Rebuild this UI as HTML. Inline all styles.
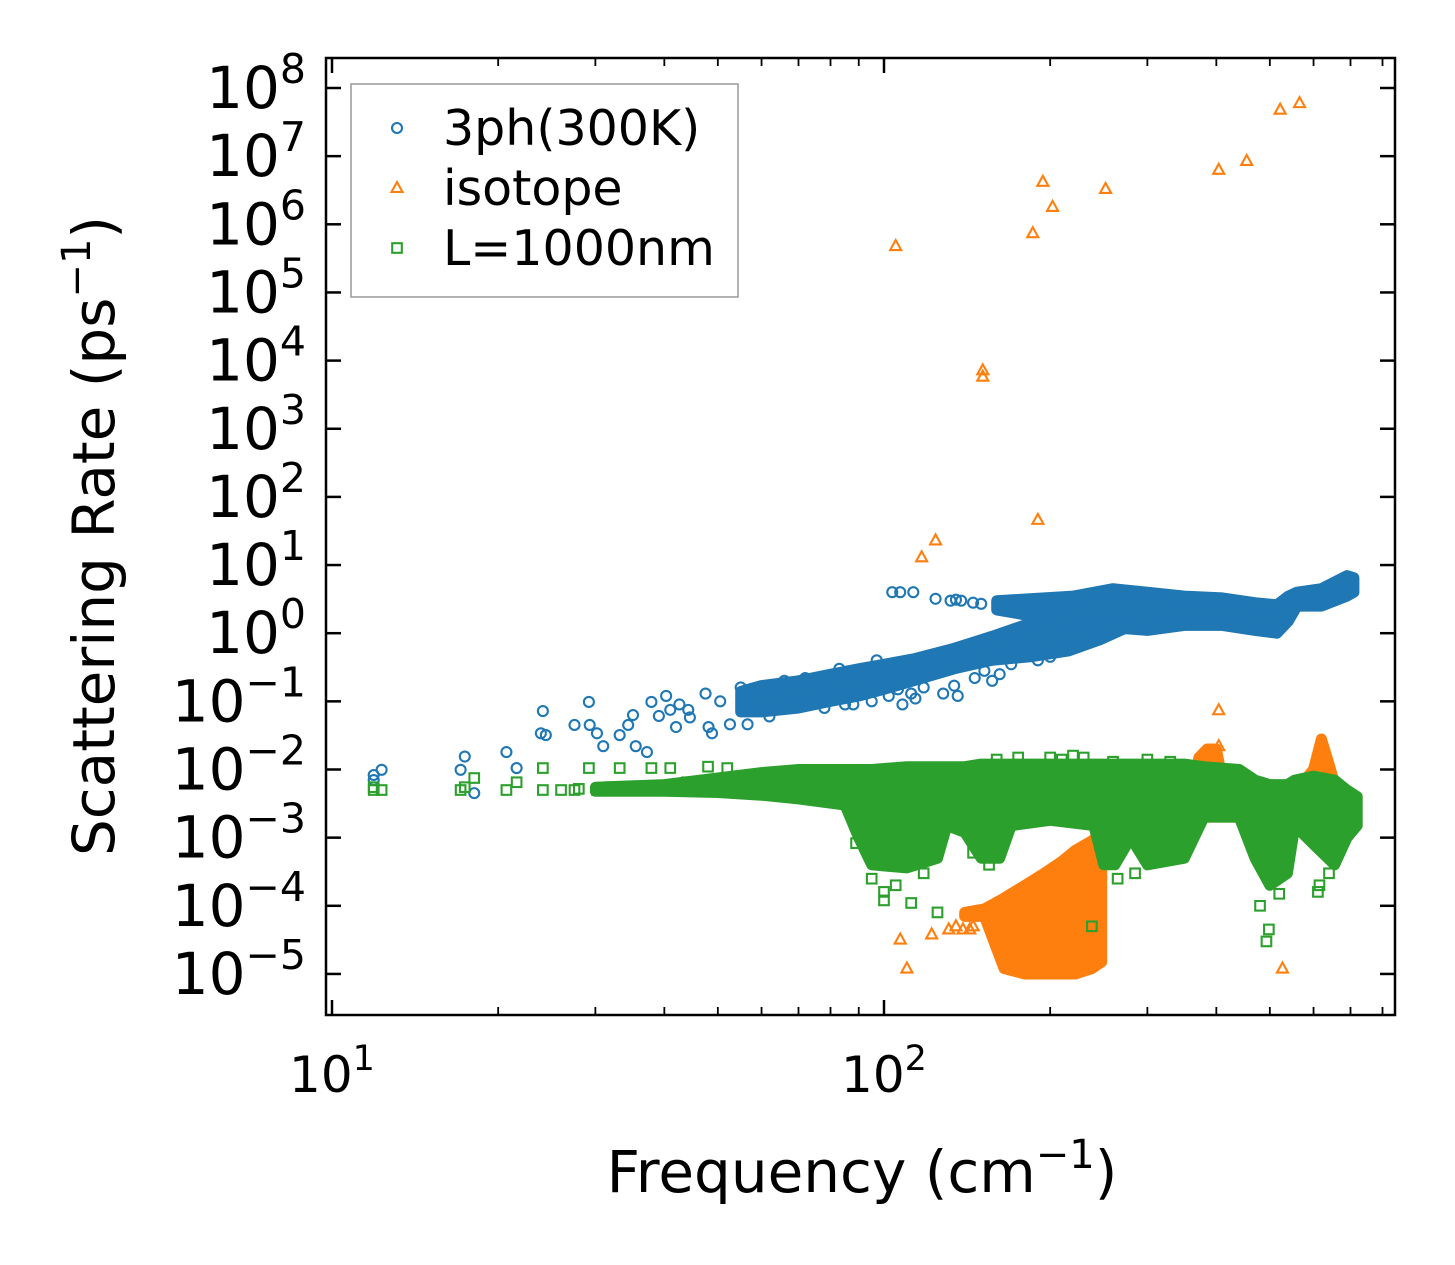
<!DOCTYPE html>
<html><head><meta charset="utf-8"><style>
html,body{margin:0;padding:0;background:#fff}
svg{display:block;font-family:"DejaVu Sans","Liberation Sans",sans-serif}
</style></head><body>
<svg id="chart" width="1455" height="1265" viewBox="0 0 1455 1265" xmlns="http://www.w3.org/2000/svg">
<rect x="0" y="0" width="1455" height="1265" fill="#fff"/>
<g id="plot"></g>
<g id="axes"></g>
</svg>
<script>
// ---- data ----
const xTickDecades = [1, 2];
const yTickDecades = [-5,-4,-3,-2,-1,0,1,2,3,4,5,6,7,8];

// 3ph (blue) dense bands: freq, low, high
const blueLowF  = [55,60,70,80,90,100,113,134,157,184,216,246,275];
const blueLowLo = [0.07,0.07,0.08,0.1,0.12,0.15,0.2,0.3,0.4,0.45,0.55,0.8,1.2];
const blueLowHi = [0.14,0.17,0.2,0.25,0.3,0.35,0.42,0.6,0.9,1.4,2.5,3.5,4];
const blueUpF  = [160,184,220,260,300,350,410,470,515,540,560,620,690,710];
const blueUpLo = [2.2,1.8,1.5,1.2,1.1,1.3,1.3,1.1,1.0,1.5,2.5,2.5,3.5,4];
const blueUpHi = [3.0,3.2,3.5,4.5,4.0,3.5,3.3,2.8,2.6,3.5,4.0,4.5,7,6.5];
const blueF = [11.9,11.9,12.3,17.1,17.4,18.1,20.7,21.6,24.1,23.9,24.4,27.5,29.2,29.3,30.2,31,33.2,34.4,35.1,35.5,37.2,37.9,39.1,40.3,41,42,42.6,44.2,44.5,47.5,48.1,48.8,50.5,52.6,55,56.6,
  103.5,107,113,124,132,135,138,145,150,104,106,112,114,134,136,157,162,170,190,95,85,75,62,66,72,78,83,88,97,102,108,118,128,146,152,178,200];
const blueV = [0.0083,0.007,0.0099,0.0099,0.0155,0.0045,0.018,0.0105,0.072,0.034,0.032,0.045,0.098,0.045,0.034,0.022,0.032,0.045,0.063,0.022,0.018,0.098,0.061,0.12,0.075,0.042,0.09,0.075,0.058,0.13,0.042,0.034,0.1,0.046,0.16,0.046,
  4,4,4,3.2,3,3.1,3,2.8,2.7,0.2,0.15,0.13,0.11,0.17,0.12,0.2,0.25,0.35,0.4,0.1,0.09,0.12,0.06,0.2,0.22,0.08,0.3,0.09,0.4,0.12,0.09,0.16,0.13,0.22,0.28,0.6,0.45];

// isotope (orange)
const orBlobF  = [140,152,165,180,195,210,222,238,248];
const orBlobLo = [7e-5,7e-5,1.2e-5,1e-5,1e-5,1e-5,1e-5,1.2e-5,1.5e-5];
const orBlobHi = [8e-5,9e-5,1.3e-4,2e-4,3e-4,4.5e-4,6.5e-4,9e-4,1.2e-3];
const orBandF  = [250,300,360,372,385,400,412,440,560,600,620,640,660,700];
const orBandLo = [2e-3,2e-3,2e-3,2e-3,2e-3,2e-3,2e-3,2e-3,2e-3,2e-3,2e-3,2e-3,2e-3,2e-3];
const orBandHi = [3.5e-3,4e-3,4e-3,0.015,0.02,0.02,0.006,5e-3,5e-3,0.01,0.028,0.012,5e-3,4e-3];
const orangeF = [105,117,124,151,151,186,194,202,190,252,404,454,522,566,404,404,527,110,107,122,131,135,139,143,145,262,290,320];
const orangeV = [4.8e5,13,23,7.2e3,5.8e3,7.4e5,4.2e6,1.8e6,46,3.3e6,6.3e6,8.5e6,4.8e7,6e7,0.074,0.022,1.2e-5,1.2e-5,3.2e-5,3.8e-5,4.5e-5,5e-5,4.5e-5,4.5e-5,5e-5,2.5e-3,3e-3,2.5e-3];

// L=1000nm (green)
const greenBandF  = [30,40,50,60,70,85,90,95,110,125,130,140,150,162,170,200,240,250,262,280,300,350,380,440,470,500,538,555,600,655,690,720];
const greenBandLo = [0.0048,0.0048,0.0046,0.0042,0.0037,0.003,0.001,4e-4,3.6e-4,5e-4,0.0015,0.0012,5e-4,5e-4,0.0015,0.0018,0.0015,4e-4,4e-4,0.001,4e-4,5e-4,0.002,0.002,5e-4,2e-4,3e-4,0.0015,8e-4,4e-4,0.001,0.0015];
const greenBandHi = [0.0055,0.006,0.0075,0.009,0.01,0.01,0.01,0.01,0.011,0.011,0.011,0.011,0.012,0.012,0.012,0.012,0.012,0.012,0.012,0.012,0.012,0.012,0.011,0.01,0.007,0.006,0.006,0.007,0.008,0.007,0.005,0.004];
const greenF = [11.9,11.9,12.3,17.1,17.4,18.1,20.7,21.6,24.1,24.1,27.5,29.2,30.2,33.2,35.1,37.9,41,44,48,52,26,28,32,36,
  89,100,100,112,125,238,493,498,611,615,640,200,210,220,230,160,175,260,300,330,95,105,118,145,155,265,285,480,520];
const greenV = [0.005,0.0055,0.005,0.005,0.0055,0.0075,0.005,0.0065,0.0105,0.005,0.005,0.0105,0.005,0.0105,0.005,0.0105,0.0105,0.0065,0.011,0.0105,0.005,0.0052,0.0055,0.005,
  8.3e-4,1.6e-4,1.2e-4,1.1e-4,8e-5,5e-5,3e-5,4.5e-5,1.6e-4,2e-4,3e-4,0.015,0.014,0.016,0.015,0.014,0.015,0.013,0.014,0.013,2.5e-4,2e-4,3e-4,6e-4,4e-4,2.5e-4,3e-4,1e-4,1.5e-4];

// ---- axes functions ----
const X0 = 332, XDEC = 552, Y8 = 88, YDEC = 68.15;
function X(f){ return X0 + XDEC*(Math.log10(f) - 1); }
function Y(v){ return Y8 + (8 - Math.log10(v))*YDEC; }
const NS = 'http://www.w3.org/2000/svg';
const plot = document.getElementById('plot');
const axes = document.getElementById('axes');
function mk(tag, attrs, parent){
  const e = document.createElementNS(NS, tag);
  for (const k in attrs) e.setAttribute(k, attrs[k]);
  parent.appendChild(e); return e;
}
const BLUE='#1f77b4', ORANGE='#ff7f0e', GREEN='#2ca02c';

const defs = mk('defs', {}, document.getElementById('chart'));
const cp = mk('clipPath', {id:'clip'}, defs);
mk('rect', {x:326, y:58, width:1069, height:957}, cp);
plot.setAttribute('clip-path', 'url(#clip)');

function band(F, lo, hi, color, name){
  let d = '';
  for (let i=0;i<F.length;i++) d += (i?'L':'M') + X(F[i]).toFixed(1) + ' ' + Y(hi[i]).toFixed(1);
  for (let i=F.length-1;i>=0;i--) d += 'L' + X(F[i]).toFixed(1) + ' ' + Y(lo[i]).toFixed(1);
  d += 'Z';
  const p = mk('path', {d:d, fill:color, stroke:color, 'stroke-width':11, 'stroke-linejoin':'round'}, plot);
  
  
}
function marker(kind, cx, cy, color, parent){
  let e;
  if (kind==='o') e = mk('circle', {cx:cx, cy:cy, r:5, fill:'none', stroke:color, 'stroke-width':2.1}, parent);
  else if (kind==='s') e = mk('rect', {x:cx-4.8, y:cy-4.8, width:9.6, height:9.6, fill:'none', stroke:color, 'stroke-width':2.1}, parent);
  else e = mk('polygon', {points:`${cx},${cy-6} ${cx+5.5},${cy+4} ${cx-5.5},${cy+4}`, fill:'none', stroke:color, 'stroke-width':2.1}, parent);
  return e;
}
function scatter(F, V, kind, color, name){
  const g = mk('g', {}, plot);
  
  
  for (let i=0;i<F.length;i++){
    const m = marker(kind, X(F[i]), Y(V[i]), color, g);
    
    
  }
}
band(blueLowF, blueLowLo, blueLowHi, BLUE, '3ph-lower-band');
band(blueUpF, blueUpLo, blueUpHi, BLUE, '3ph-upper-band');
scatter(blueF, blueV, 'o', BLUE, '3ph-points');
band(orBlobF, orBlobLo, orBlobHi, ORANGE, 'isotope-low-cluster');
band(orBandF, orBandLo, orBandHi, ORANGE, 'isotope-high-freq-band');
scatter(orangeF, orangeV, '^', ORANGE, 'isotope-points');
band(greenBandF, greenBandLo, greenBandHi, GREEN, 'boundary-band');
scatter(greenF, greenV, 's', GREEN, 'boundary-points');

const fr = mk('rect', {x:326, y:58, width:1069, height:957, fill:'none', stroke:'#000', 'stroke-width':2.5}, axes);



yTickDecades.forEach(p=>{
  const y = Y(Math.pow(10,p));
  const t1 = mk('line', {x1:326, x2:341, y1:y, y2:y, stroke:'#000', 'stroke-width':2.5}, axes);
  
  
  const t2 = mk('line', {x1:1380, x2:1395, y1:y, y2:y, stroke:'#000', 'stroke-width':2.5}, axes);
  
  
  const tx = mk('text', {x:306, y:y+20, 'font-size':58, 'text-anchor':'end', fill:'#000'}, axes);
  
  
  const a = document.createElementNS(NS,'tspan'); a.textContent = '10'; tx.appendChild(a);
  const b = document.createElementNS(NS,'tspan');
  b.setAttribute('dy', -25); b.setAttribute('font-size', 41);
  b.textContent = p<0 ? '\u2212'+(-p) : String(p); tx.appendChild(b);
});
for (let dec=1; dec<=2; dec++){
  for (let m=1; m<=9; m++){
    const f = m*Math.pow(10,dec);
    const x = X(f);
    if (x < 326 || x > 1395) continue;
    const len = m===1 ? 15 : 8;
    const w = m===1 ? 2.5 : 1.8;
    const a = mk('line', {x1:x, x2:x, y1:1015, y2:1015-len, stroke:'#000', 'stroke-width':w}, axes);
    
    
    const b = mk('line', {x1:x, x2:x, y1:58, y2:58+len, stroke:'#000', 'stroke-width':w}, axes);
    
    
  }
}
xTickDecades.forEach(p=>{
  const x = X(Math.pow(10,p));
  const tx = mk('text', {x:x, y:1092, 'font-size':50, 'text-anchor':'middle', fill:'#000'}, axes);
  
  
  const a = document.createElementNS(NS,'tspan'); a.textContent = '10'; tx.appendChild(a);
  const b = document.createElementNS(NS,'tspan');
  b.setAttribute('dy', -22); b.setAttribute('font-size', 35); b.textContent = String(p); tx.appendChild(b);
});

const xt = mk('text', {x:862, y:1192, 'font-size':58, 'text-anchor':'middle', fill:'#000'}, document.getElementById('chart'));


xt.innerHTML = 'Frequency (cm<tspan dy="-24" font-size="40">\u22121</tspan><tspan dy="24">)</tspan>';
const yt = mk('text', {transform:'translate(114,536) rotate(-90)', 'font-size':58, 'text-anchor':'middle', fill:'#000'}, document.getElementById('chart'));


yt.innerHTML = 'Scattering Rate (ps<tspan dy="-24" font-size="40">\u22121</tspan><tspan dy="24">)</tspan>';

const lg = mk('g', {}, document.getElementById('chart'));


const lr = mk('rect', {x:351, y:84, width:387, height:213, fill:'#fff', stroke:'#999', 'stroke-width':1.5}, lg);


const legendLabels = ['3ph(300K)','isotope','L=1000nm'];
const legendKinds = ['o','^','s'];
const legendColors = [BLUE, ORANGE, GREEN];
legendLabels.forEach((lab,i)=>{
  const y = 128 + i*60;
  const m = marker(legendKinds[i], 397, y, legendColors[i], lg);
  
  
  const t = mk('text', {x:443, y:y+17, 'font-size':49, fill:'#000'}, lg);
  t.textContent = lab;
  
  
});
</script>
</body></html>
